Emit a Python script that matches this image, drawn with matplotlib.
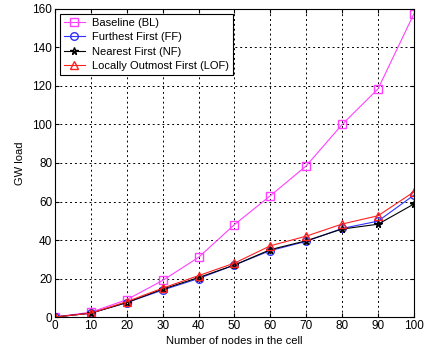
import matplotlib
matplotlib.use("Agg")
import matplotlib.pyplot as plt

plt.rcParams['font.family'] = ['Liberation Sans', 'DejaVu Sans']

nodes = [0, 10, 20, 30, 40, 50, 60, 70, 80, 90, 100]
baseline = [0, 2.5, 9, 19, 31, 48, 63, 78.5, 100, 118.5, 157.5]
furthest = [0, 2, 7.5, 14, 20, 27, 34.5, 39.3, 46, 49.8, 63.3]
nearest = [0, 2, 7.5, 14.5, 20.5, 27, 35, 39.6, 45.7, 48.2, 58.7]
outmost = [0, 2, 8, 15, 21.5, 28, 37, 42, 48.3, 52.6, 65]

xticks = [0, 10, 20, 30, 40, 50, 60, 70, 80, 90, 100]
yticks = [0, 20, 40, 60, 80, 100, 120, 140, 160]

fig = plt.figure(figsize=(4.38, 3.54), dpi=100)
ax = fig.add_axes([0.1256, 0.1045, 0.8194, 0.8701])

ax.plot(nodes, baseline, color='#ff40ff', marker='s', mfc='none', ms=5.5, lw=0.8,
        label='Baseline (BL)')
ax.plot(nodes, furthest, color='#3030ff', marker='o', mfc='none', ms=5.5, lw=0.8,
        label='Furthest First (FF)')
ax.plot(nodes, nearest, color='black', marker='*', mfc='none', ms=5.5, lw=0.8,
        label='Nearest First (NF)')
ax.plot(nodes, outmost, color='#ff2020', marker='^', mfc='none', ms=5.5, lw=0.8,
        label='Locally Outmost First (LOF)')

ax.set_xlim(0, 100)
ax.set_ylim(0, 160)
ax.set_xticks(xticks)
ax.set_yticks(yticks)
ax.tick_params(direction='in', top=True, right=True, labelsize=8.5, length=3, pad=2)
ax.grid(True, color='black', linestyle=(0, (2, 3)), linewidth=0.7)
for s in ax.spines.values():
    s.set_linewidth(0.8)

ax.set_xlabel('Number of nodes in the cell', fontsize=8, labelpad=3)
ax.set_ylabel('GW load', fontsize=8, labelpad=5)

leg = ax.legend(loc='upper left', fontsize=8, fancybox=False, framealpha=1,
                edgecolor='black', borderpad=0.35, labelspacing=0.4,
                handlelength=1.9, handletextpad=0.6, borderaxespad=0.45)
leg.get_frame().set_linewidth(0.8)

fig.savefig('out.png', dpi=100)
